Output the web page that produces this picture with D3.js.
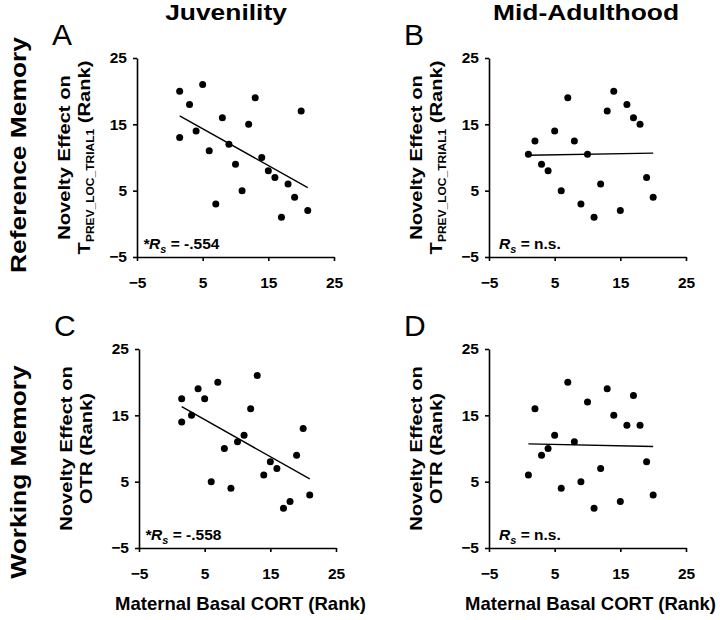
<!DOCTYPE html>
<html>
<head>
<meta charset="utf-8">
<script src="https://cdn.jsdelivr.net/npm/d3@7"></script>
<style>
  html, body { margin: 0; padding: 0; background: #fff; }
  svg { display: block; font-family: "Liberation Sans", Arial, Helvetica, sans-serif; }
</style>
</head>
<body>
<svg id="chart" width="720" height="620"></svg>
<script>
// ---------- data (ranks) ----------
const xTickValues = [-5, 5, 15, 25];
const yTickValues = [-5, 5, 15, 25];
const axisDomain = [-5, 25];

const columnTitles = ["Juvenility", "Mid-Adulthood"];
const rowTitles = ["Reference Memory", "Working Memory"];
const panelLetters = ["A", "B", "C", "D"];
const xAxisTitle = "Maternal Basal CORT (Rank)";
const statLabels = ["-.554", "n.s.", "-.558", "n.s."];
const statSignificant = [true, false, true, false];

// Panel A: Juvenility / Reference Memory
const aX = [1.5, 5, 3, 13, 20, 8, 12, 1.5, 4, 9, 6, 14, 10, 15, 16, 18, 11, 19, 7, 21, 17];
const aY = [20, 21, 18, 19, 17, 16, 15, 13, 14, 12, 11, 10, 9, 8, 7, 6, 5, 4, 3, 2, 1];
// Panel B: Mid-Adulthood / Reference Memory
const bX = [7, 14, 16, 13, 17, 18, 5, 2, 8, 1, 10, 3, 4, 19, 12, 6, 20, 9, 15, 11];
const bY = [19, 20, 18, 17, 16, 15, 14, 12.5, 12.5, 10.5, 10.5, 9, 8, 7, 6, 5, 4, 3, 2, 1];
// Panel C: Juvenility / Working Memory
const cX = [13, 7, 4, 1.5, 5, 12, 3, 1.5, 20, 11, 10, 8, 19, 15, 16, 14, 6, 9, 21, 18, 17];
const cY = [21, 20, 19, 17.5, 17.5, 16, 15, 14, 13, 12, 11, 10, 9, 8, 7, 6, 5, 4, 3, 2, 1];
// Panel D: Mid-Adulthood / Working Memory
const dX = [7, 13, 17, 10, 2, 14, 16, 18, 5, 8, 4, 3, 19, 12, 1, 9, 6, 20, 15, 11];
const dY = [20, 19, 18, 17, 16, 15, 13.5, 13.5, 12, 11, 10, 9, 8, 7, 6, 5, 4, 3, 2, 1];

// ---------- layout ----------
const svg = d3.select("#chart");
const W = 197, H = 199;
const panels = [
  { left: 137, top: 58,  xs: aX, ys: aY, yLine2: "T", sub: "PREV_LOC_TRIAL1", rest: " (Rank)" },
  { left: 489, top: 58,  xs: bX, ys: bY, yLine2: "T", sub: "PREV_LOC_TRIAL1", rest: " (Rank)" },
  { left: 139, top: 349, xs: cX, ys: cY, yLine2: "OTR (Rank)", sub: null, rest: null },
  { left: 489, top: 349, xs: dX, ys: dY, yLine2: "OTR (Rank)", sub: null, rest: null }
];

function regression(xs, ys) {
  const mx = d3.mean(xs), my = d3.mean(ys);
  let sxy = 0, sxx = 0;
  xs.forEach((x, i) => { sxy += (x - mx) * (ys[i] - my); sxx += (x - mx) * (x - mx); });
  const b = sxy / sxx;
  return x => my + b * (x - mx);
}

const STRETCH = 1.2;

panels.forEach((p, i) => {
  const g = svg.append("g").attr("transform", `translate(${p.left},${p.top})`);
  const x = d3.scaleLinear().domain(axisDomain).range([0, W]);
  const y = d3.scaleLinear().domain(axisDomain).range([H, 0]);

  // axes
  const yAxis = d3.axisLeft(y).tickValues(yTickValues).tickSize(4).tickSizeOuter(0).tickPadding(6).tickFormat(d3.format("d"));
  const xAxis = d3.axisBottom(x).tickValues(xTickValues).tickSize(4).tickSizeOuter(0).tickPadding(15.5).tickFormat(d3.format("d"));
  const ya = g.append("g").call(yAxis);
  const xa = g.append("g").attr("transform", `translate(0,${H})`).call(xAxis);
  [ya, xa].forEach(a => {
    a.select(".domain").attr("stroke", "#000").attr("stroke-width", 1.6);
    a.selectAll(".tick line").attr("stroke", "#000").attr("stroke-width", 1.6);
    a.selectAll(".tick text").attr("fill", "#000")
      .style("font-size", "15.5px").style("font-weight", "bold")
      .style("font-family", "'Liberation Sans', Arial, sans-serif");
  });

  // regression line
  const f = regression(p.xs, p.ys);
  const x0 = d3.min(p.xs), x1 = d3.max(p.xs);
  g.append("line")
    .attr("x1", x(x0)).attr("y1", y(f(x0)))
    .attr("x2", x(x1)).attr("y2", y(f(x1)))
    .attr("stroke", "#000").attr("stroke-width", 1.4);

  // points
  g.selectAll("circle.pt").data(p.xs.map((v, k) => [v, p.ys[k]])).enter()
    .append("circle").attr("class", "pt")
    .attr("cx", d => x(d[0])).attr("cy", d => y(d[1]))
    .attr("r", 3.5).attr("fill", "#000");

  // statistic annotation
  const st = g.append("text")
    .attr("x", statSignificant[i] ? 6 : 10).attr("y", H - 8)
    .style("font-size", "15.5px").style("font-weight", "bold").attr("fill", "#000");
  if (statSignificant[i]) st.append("tspan").style("font-style", "italic").text("*");
  st.append("tspan").style("font-style", "italic").text("R");
  st.append("tspan").style("font-style", "italic").style("font-size", "11px").attr("dy", 4).text("s");
  st.append("tspan").attr("dy", -4).text(" = " + statLabels[i]);

  // y axis title (two lines, rotated)
  const cy = H / 2;
  g.append("text")
    .attr("transform", `translate(-67,${cy}) rotate(-90) scale(${STRETCH},1)`)
    .attr("text-anchor", "middle")
    .style("font-size", "16.8px").style("font-weight", "bold").attr("fill", "#000")
    .text("Novelty Effect on");
  const t2 = g.append("text")
    .attr("transform", `translate(-47,${cy}) rotate(-90) scale(${STRETCH},1)`)
    .attr("text-anchor", "middle")
    .style("font-size", "16.8px").style("font-weight", "bold").attr("fill", "#000");
  if (p.sub) {
    t2.append("tspan").text(p.yLine2);
    t2.append("tspan").attr("dy", 4).style("font-size", "10px").text(p.sub);
    t2.append("tspan").attr("dy", -4).text(p.rest);
  } else {
    t2.text(p.yLine2);
  }

  // panel letter
  svg.append("text")
    .attr("x", p.left - 85).attr("y", p.top - 13)
    .style("font-size", "30px").attr("fill", "#000")
    .text(panelLetters[i]);

  // x axis title for bottom row
  if (i >= 2) {
    svg.append("text")
      .attr("x", p.left + W / 2 + 3).attr("y", p.top + H + 62)
      .attr("text-anchor", "middle")
      .style("font-size", "18.5px").style("font-weight", "bold").attr("fill", "#000")
      .text(xAxisTitle);
  }
});

// column titles
[[226, columnTitles[0]], [586, columnTitles[1]]].forEach(([cx, t]) => {
  svg.append("text")
    .attr("transform", `translate(${cx},20) scale(${STRETCH},1)`)
    .attr("text-anchor", "middle")
    .style("font-size", "22px").style("font-weight", "bold").attr("fill", "#000")
    .text(t);
});

// row titles
[[155, rowTitles[0]], [472, rowTitles[1]]].forEach(([cy, t]) => {
  svg.append("text")
    .attr("transform", `translate(26,${cy}) rotate(-90) scale(${STRETCH},1)`)
    .attr("text-anchor", "middle")
    .style("font-size", "22px").style("font-weight", "bold").attr("fill", "#000")
    .text(t);
});
</script>
</body>
</html>
